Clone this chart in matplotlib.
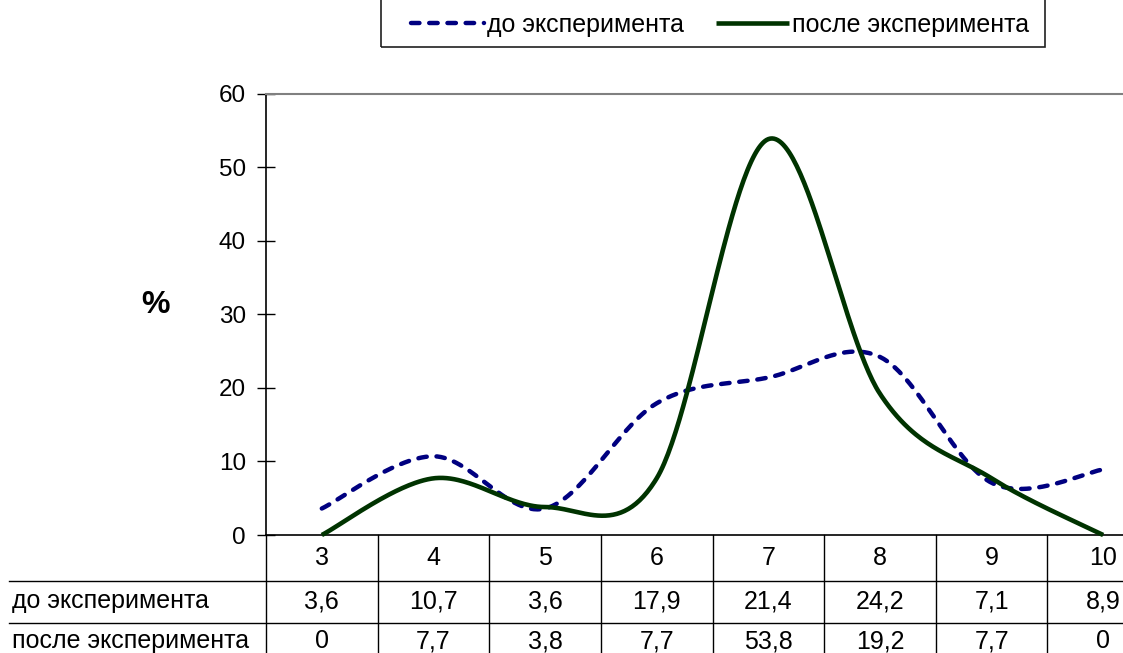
import numpy as np
import matplotlib
matplotlib.use("Agg")
import matplotlib.pyplot as plt
from matplotlib.patches import Rectangle
from matplotlib.lines import Line2D

plt.rcParams['font.family'] = ['Liberation Sans', 'DejaVu Sans']

categories = ["3", "4", "5", "6", "7", "8", "9", "10"]
before = [3.6, 10.7, 3.6, 17.9, 21.4, 24.2, 7.1, 8.9]
after = [0, 7.7, 3.8, 7.7, 53.8, 19.2, 7.7, 0]
label_before = "до эксперимента"
label_after = "после эксперимента"
yticks = [0, 10, 20, 30, 40, 50, 60]

W, H = 1123, 653
fig = plt.figure(figsize=(W / 100, H / 100), dpi=100)

def fx(px):
    return px / W

def fy(py):
    return 1 - py / H

ax_left, ax_right, ax_top, ax_bot = 266, 1159, 93.5, 535
ax = fig.add_axes([fx(ax_left), fy(ax_bot), fx(ax_right - ax_left), (ax_bot - ax_top) / H])


def smooth(ys, n=60):
    """Excel-like smoothed line (Catmull-Rom as cubic Bezier)."""
    xs = np.arange(len(ys), dtype=float)
    pts = np.column_stack([xs, np.asarray(ys, dtype=float)])
    out = []
    for i in range(len(pts) - 1):
        p0 = pts[i - 1] if i > 0 else pts[i]
        p1 = pts[i]
        p2 = pts[i + 1]
        p3 = pts[i + 2] if i + 2 < len(pts) else pts[i + 1]
        c1 = p1 + (p2 - p0) / 6
        c2 = p2 - (p3 - p1) / 6
        t = np.linspace(0, 1, n)[:, None]
        seg = ((1 - t) ** 3) * p1 + 3 * ((1 - t) ** 2) * t * c1 + 3 * (1 - t) * t ** 2 * c2 + t ** 3 * p2
        out.append(seg if i == 0 else seg[1:])
    arr = np.vstack(out)
    return arr[:, 0], arr[:, 1]

blue = '#000080'
green = '#003300'

xb, yb = smooth(before)
xa, ya = smooth(after)
l1, = ax.plot(xb, yb, color=blue, lw=3.2, dashes=(1.9, 2.2), dash_capstyle='round',
              clip_on=False, zorder=3)
l2, = ax.plot(xa, ya, color=green, lw=3.3, solid_capstyle='butt', clip_on=False, zorder=4)

ax.set_xlim(-0.5, len(categories) - 0.5)
ax.set_ylim(0, 60)
ax.set_yticks(yticks)
ax.set_yticklabels([str(v) for v in yticks], fontsize=17.5)
ax.tick_params(axis='y', direction='inout', length=13, width=1, pad=8, colors='black')
ax.set_xticks([])
for s in ['top', 'right']:
    ax.spines[s].set_color('#808080')
    ax.spines[s].set_linewidth(1.5)
for s in ['left', 'bottom']:
    ax.spines[s].set_color('black')
    ax.spines[s].set_linewidth(1.2)

ax.text(-0.124, 0.521, '%', transform=ax.transAxes, fontsize=23, fontweight='bold',
        ha='center', va='center')

# data table under the axes
axh = ax_bot - ax_top
def ay(py):
    return -(py - ax_bot) / axh

tr = matplotlib.transforms.blended_transform_factory(ax.transData, ax.transAxes)
row_lines = [581, 623, 665]
x_label_left = (9 - ax_left) / (ax_right - ax_left)
for r in row_lines:
    ax.add_line(Line2D([x_label_left, 1], [ay(r), ay(r)], transform=ax.transAxes,
                       color='black', lw=1, clip_on=False))
# vertical lines
ax.add_line(Line2D([0, 0], [0, ay(665)], transform=ax.transAxes, color='black', lw=1, clip_on=False))
for i in range(1, len(categories) + 1):
    ax.add_line(Line2D([i - 0.5, i - 0.5], [0, ay(665)], transform=tr, color='black', lw=1, clip_on=False))

fs = 18
for i, c in enumerate(categories):
    ax.text(i, ay(558), c, transform=tr, ha='center', va='center', fontsize=fs)
    ax.text(i, ay(601), f"{before[i]:g}".replace('.', ','), transform=tr, ha='center', va='center', fontsize=fs)
    ax.text(i, ay(641), f"{after[i]:g}".replace('.', ','), transform=tr, ha='center', va='center', fontsize=fs)
ax.text(x_label_left + 0.003, ay(601), label_before, transform=ax.transAxes, ha='left', va='center', fontsize=fs)
ax.text(x_label_left + 0.003, ay(641), label_after, transform=ax.transAxes, ha='left', va='center', fontsize=fs)

# legend
fig.add_artist(Rectangle((fx(381), fy(47)), fx(1045 - 381), fy(-30) - fy(47), transform=fig.transFigure,
                         fill=False, edgecolor='#202020', lw=1.2))
fig.legend([l1, l2], [label_before, label_after], loc='center', bbox_to_anchor=(fx(720), fy(25)),
           ncol=2, frameon=False, fontsize=fs, handlelength=2.9, handletextpad=0.12, columnspacing=1.3)

fig.savefig('out.png', dpi=100)
